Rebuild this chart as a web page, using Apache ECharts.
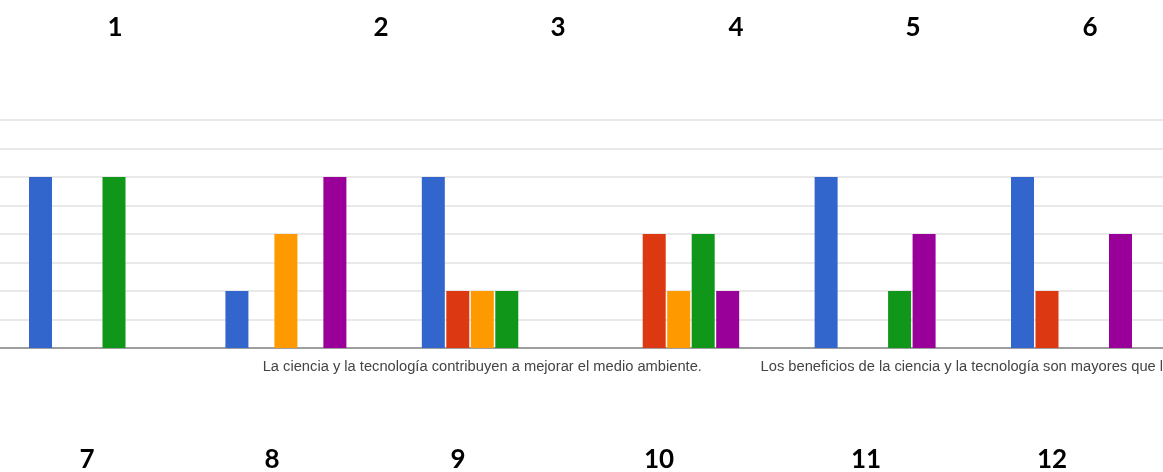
<!DOCTYPE html>
<html>
<head>
<meta charset="utf-8">
<script src="https://cdn.jsdelivr.net/npm/echarts@6/dist/echarts.min.js"></script>
<style>
  html, body { margin: 0; padding: 0; background: #ffffff; }
  #chart { width: 1163px; height: 472px; }
</style>
</head>
<body>
<div id="chart"></div>
<script>
// ---- data ----
const categories = [
  'Afirmación A',
  'Afirmación B',
  'La ciencia y la tecnología contribuyen a mejorar el medio ambiente.',
  'Afirmación D',
  'Los beneficios de la ciencia y la tecnología son mayores que los perjuicios.',
  'Afirmación F'
];
const seriesNames = ['Opción 1', 'Opción 2', 'Opción 3', 'Opción 4', 'Opción 5'];
const blueValues   = [3, 1, 3, 0, 3, 3];
const redValues    = [0, 0, 1, 2, 0, 1];
const orangeValues = [0, 2, 1, 1, 0, 0];
const greenValues  = [3, 0, 1, 2, 1, 0];
const purpleValues = [0, 3, 0, 1, 2, 2];
const annotationTop = ['1', '2', '3', '4', '5', '6'];
const annotationBottom = ['7', '8', '9', '10', '11', '12'];

// ---- layout / style ----
const colors = ['#3366cc', '#dc3912', '#ff9900', '#109618', '#990099'];
const topX = [115, 381, 558, 736, 913, 1090];
const bottomX = [87, 272, 458, 659, 866, 1052];
const visibleLabels = [2, 4];

const allValues = [blueValues, redValues, orangeValues, greenValues, purpleValues];

const xData = categories.map((c, i) => {
  if (i === 4) {
    return { value: c, textStyle: { align: 'left', padding: [0, 0, 0, -114.5] } };
  }
  return c;
});

const series = allValues.map((vals, i) => ({
  name: seriesNames[i],
  type: 'bar',
  data: vals,
  barWidth: 23,
  barGap: '6.5%',
  itemStyle: { color: colors[i] },
  emphasis: { disabled: true }
}));

const numFont = 'bold 26px Lato, "Open Sans", sans-serif';
const graphics = [];
annotationTop.forEach((t, i) => {
  graphics.push({
    type: 'text', x: topX[i], y: 28,
    style: { text: t, font: numFont, fill: '#000', textAlign: 'center', textVerticalAlign: 'middle' }
  });
});
annotationBottom.forEach((t, i) => {
  graphics.push({
    type: 'text', x: bottomX[i], y: 460,
    style: { text: t, font: numFont, fill: '#000', textAlign: 'center', textVerticalAlign: 'middle' }
  });
});

const chart = echarts.init(document.getElementById('chart'), null, { renderer: 'canvas' });
chart.setOption({
  animation: false,
  backgroundColor: '#ffffff',
  grid: { left: -8.7, width: 1178.4, top: 120, height: 228, containLabel: false, outerBoundsMode: 'none' },
  xAxis: {
    type: 'category',
    data: xData,
    axisTick: { show: false },
    axisLine: { show: true, lineStyle: { color: '#9e9e9e', width: 2 } },
    axisLabel: {
      interval: (idx) => visibleLabels.indexOf(idx) >= 0,
      color: '#444444',
      fontFamily: '"Liberation Sans", Arial, sans-serif',
      fontSize: 14.7,
      margin: 11
    },
    splitLine: { show: false }
  },
  yAxis: {
    type: 'value',
    min: 0, max: 4, interval: 0.5,
    axisLabel: { show: false },
    axisLine: { show: false },
    axisTick: { show: false },
    splitLine: { show: true, lineStyle: { color: '#e2e2e2', width: 1.5 } }
  },
  series: series,
  graphic: graphics
});
</script>
</body>
</html>
